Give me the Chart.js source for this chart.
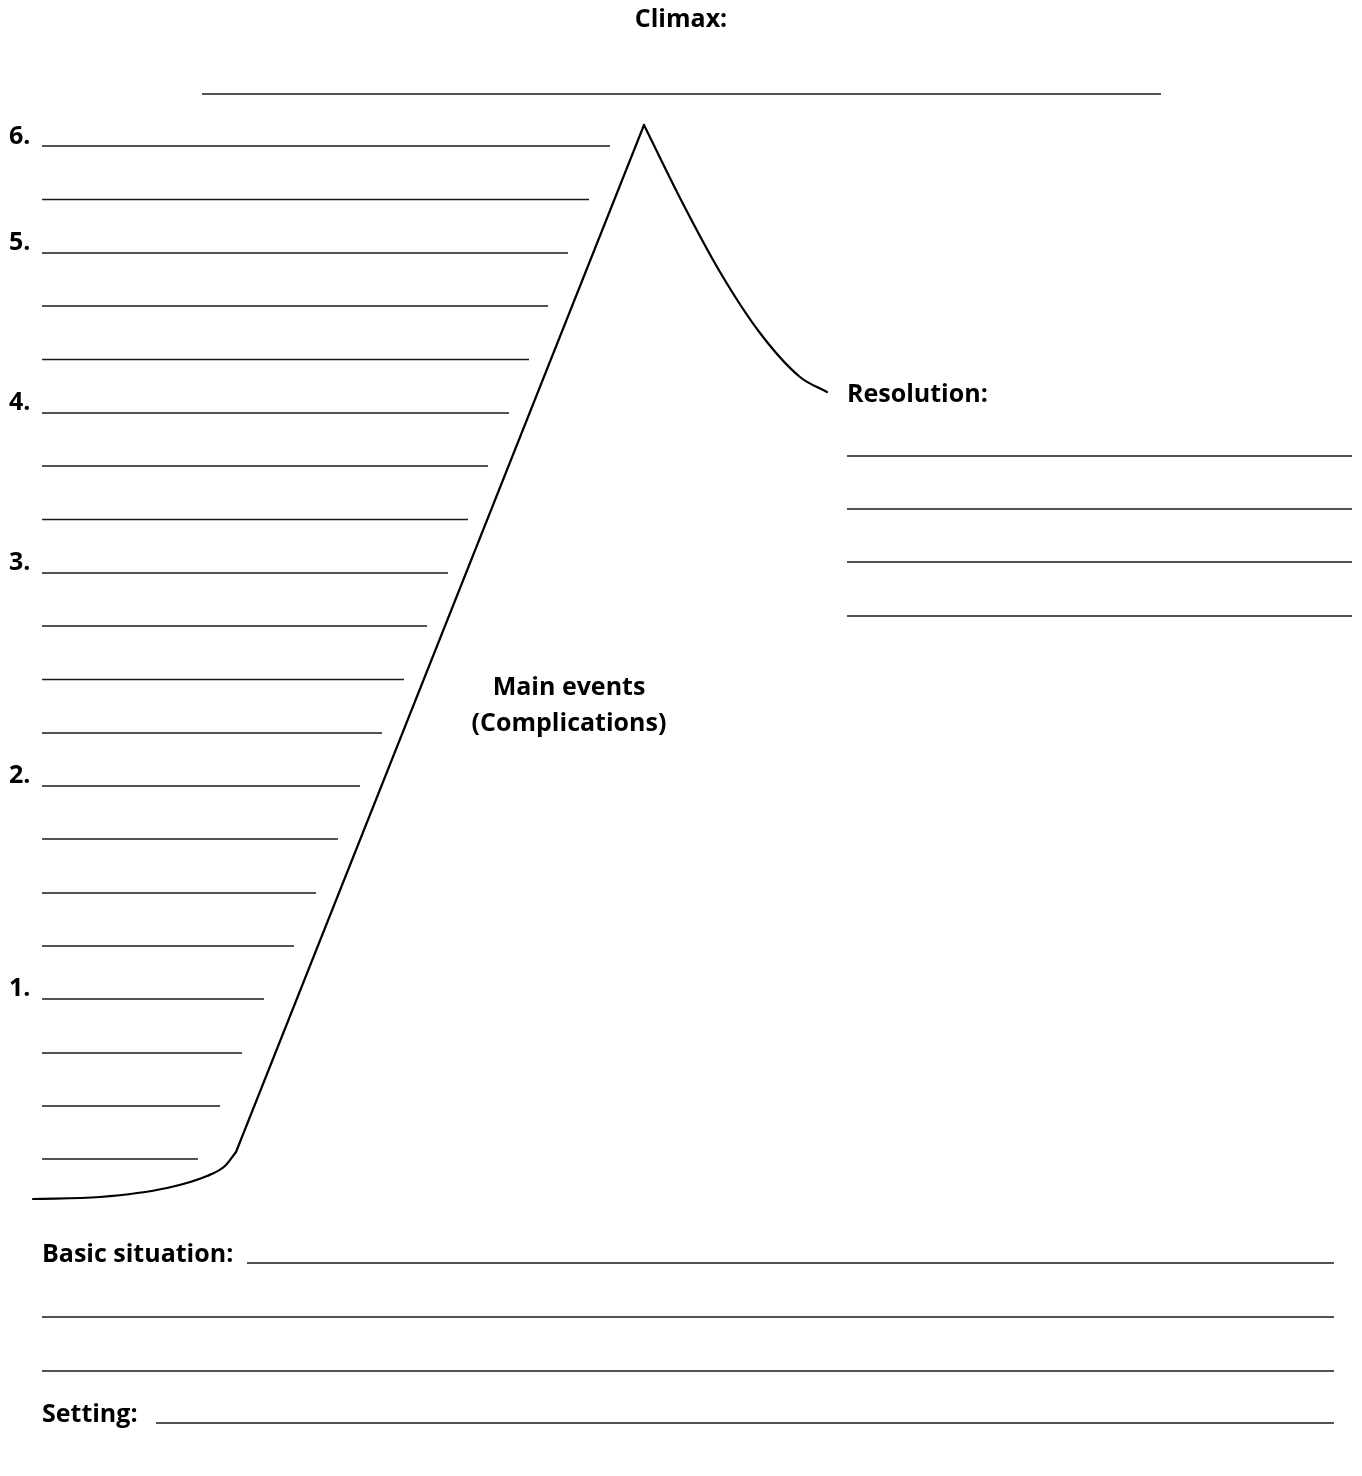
<!DOCTYPE html>
<html>
<head>
<meta charset="utf-8">
<title>Plot diagram</title>
<script src="https://cdn.jsdelivr.net/npm/chart.js@4.4.1/dist/chart.umd.min.js"></script>
<style>
  html, body { margin: 0; padding: 0; background: #fff; }
  canvas { display: block; }
</style>
</head>
<body>
<canvas id="plot" width="1362" height="1476"></canvas>
<script>
// plot mountain (page units)
const expositionX = [33, 100, 167, 207, 225, 236];
const expositionY = [1199, 1197, 1188, 1176, 1166, 1152];
const risingX = [236, 644];
const risingY = [1152, 125];
const fallingX = [644, 680, 720, 760, 800, 827];
const fallingY = [125, 198, 272, 333, 377, 392];

// write-in lines next to the rising side
const eventLineY = [146, 199.5, 253, 306, 359.5, 413, 466, 519.5, 573, 626,
  679.5, 733, 786, 839, 893, 946, 999, 1053, 1106, 1159];
const eventLineEnd = [610, 589, 568, 548, 529, 509, 488, 468, 448, 427,
  404, 382, 360, 338, 316, 294, 264, 242, 220, 198];
const eventLineStart = 42;

const climaxLineY = [94];
const climaxLineStart = [202];
const climaxLineEnd = [1161];

const resolutionLineY = [456, 509, 562, 616];
const resolutionLineStart = 847;
const resolutionLineEnd = 1352;

const bottomLineY = [1263, 1317, 1371, 1423];
const bottomLineStart = [247, 42, 42, 156];
const bottomLineEnd = 1334;

// labels
const labelText = ["Climax:", "6.", "5.", "4.", "3.", "2.", "1.", "Resolution:",
  "Main events", "(Complications)", "Basic situation:", "Setting:"];
const labelX = [681, 9, 9, 9, 9, 9, 9, 847, 569, 569, 42, 42];
const labelY = [27, 144, 250, 410, 570, 783, 996, 402, 695, 731, 1262, 1422];
const labelAlign = ["center", "left", "left", "left", "left", "left", "left", "left",
  "center", "center", "left", "left"];

const toPoints = (xs, ys) => xs.map((x, i) => ({ x: x, y: ys[i] }));

const segment = (y, x0, x1) => ({
  data: [{ x: x0, y: y }, { x: x1, y: y }],
  borderColor: "#1a1a1a",
  borderWidth: 1.6,
  pointRadius: 0,
  tension: 0,
});

const curve = (xs, ys, smooth) => ({
  data: toPoints(xs, ys),
  borderColor: "#000",
  borderWidth: 2.2,
  pointRadius: 0,
  borderCapStyle: "round",
  borderJoinStyle: "round",
  cubicInterpolationMode: smooth ? "monotone" : "default",
  tension: smooth ? 0.4 : 0,
});

const datasets = [];
eventLineY.forEach((y, i) => datasets.push(segment(y, eventLineStart, eventLineEnd[i])));
climaxLineY.forEach((y, i) => datasets.push(segment(y, climaxLineStart[i], climaxLineEnd[i])));
resolutionLineY.forEach((y) => datasets.push(segment(y, resolutionLineStart, resolutionLineEnd)));
bottomLineY.forEach((y, i) => datasets.push(segment(y, bottomLineStart[i], bottomLineEnd)));
datasets.push(curve(expositionX, expositionY, true));
datasets.push(curve(risingX, risingY, false));
datasets.push(curve(fallingX, fallingY, true));

const sheetLabels = {
  id: "sheetLabels",
  afterDatasetsDraw(chart) {
    const ctx = chart.ctx;
    const xs = chart.scales.x;
    const ys = chart.scales.y;
    ctx.save();
    ctx.fillStyle = "#000";
    ctx.font = "bold 25px 'Open Sans', 'Noto Sans', sans-serif";
    ctx.textBaseline = "alphabetic";
    labelText.forEach((t, i) => {
      ctx.textAlign = labelAlign[i];
      ctx.fillText(t, xs.getPixelForValue(labelX[i]), ys.getPixelForValue(labelY[i]));
    });
    ctx.restore();
  },
};

new Chart(document.getElementById("plot"), {
  type: "line",
  data: { datasets: datasets },
  options: {
    responsive: false,
    animation: false,
    devicePixelRatio: 1,
    layout: { padding: 0 },
    clip: false,
    scales: {
      x: { type: "linear", min: 0, max: 1362, display: false },
      y: { type: "linear", min: 0, max: 1476, reverse: true, display: false },
    },
    plugins: {
      legend: { display: false },
      tooltip: { enabled: false },
    },
  },
  plugins: [sheetLabels],
});
</script>
</body>
</html>
